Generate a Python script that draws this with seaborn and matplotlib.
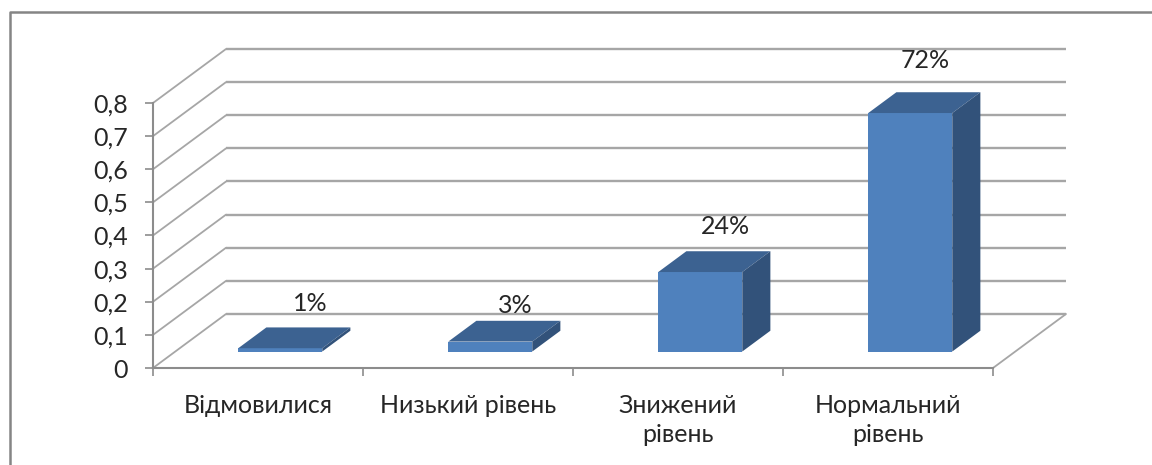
import matplotlib
matplotlib.use("Agg")
import matplotlib.pyplot as plt
from matplotlib.lines import Line2D
from matplotlib.patches import Polygon
from matplotlib.transforms import Affine2D
import pandas as pd
import seaborn as sns

categories = ["Відмовилися", "Низький рівень", "Знижений\nрівень", "Нормальний\nрівень"]
shares = [0.01, 0.03, 0.24, 0.72]
y_ticks = [0.0, 0.1, 0.2, 0.3, 0.4, 0.5, 0.6, 0.7, 0.8]

# Oblique depth of the pseudo-3D box, in pixels at full depth
DEPTH_X, DEPTH_Y = 73, 54
BAR_FRONT, BAR_BACK = 0.305, 0.69
BAR_WIDTH = 0.4
# Hand-placed data labels: pixel shift from each bar's front top centre
label_shifts = [(30, 45), (25, 36), (25, 46), (15, 53)]

GRID = "#a6a6a6"
AXIS = "#8c8c8c"
FACE = "#4f81bd"
TOP = "#3c6291"
SIDE = "#32527a"
INK = "#262626"
FONT_SIZE = 18

sns.set_theme(style="white")
plt.rcParams["font.family"] = ["Lato", "Open Sans", "DejaVu Sans"]

W, H = 1152, 465
fig = plt.figure(figsize=(W / 100, H / 100), dpi=100, facecolor="white")
ax = fig.add_axes([153 / W, (H - 368) / H, 840 / W, 265 / H])
ax.patch.set_alpha(0)


def at_depth(d):
    """Data transform pushed back along the oblique axis by fraction d."""
    return ax.transData + Affine2D().translate(d * DEPTH_X, d * DEPTH_Y)


frame = pd.DataFrame({"category": categories, "share": shares})
sns.barplot(data=frame, x="category", y="share", color=FACE, saturation=1,
            width=BAR_WIDTH, ax=ax, zorder=4, clip_on=False)
ax.set_xlim(-0.5, len(categories) - 0.5)
ax.set_ylim(0, 0.8)
ax.set_xlabel("")
ax.set_ylabel("")
x_lo, x_hi = ax.get_xlim()
pixels = Affine2D()

# Back wall and side wall
for v in y_ticks:
    ax.plot([x_lo, x_hi], [v, v], transform=at_depth(1), color=GRID, lw=1.7,
            clip_on=False, zorder=1, solid_capstyle="butt")
    a = ax.transData.transform((x_lo, v))
    ax.add_line(Line2D([a[0], a[0] + DEPTH_X], [a[1], a[1] + DEPTH_Y], transform=pixels,
                       color=GRID, lw=1.3, clip_on=False, zorder=1))

# Right edge of the floor
b = ax.transData.transform((x_hi, 0))
ax.add_line(Line2D([b[0], b[0] + DEPTH_X], [b[1], b[1] + DEPTH_Y], transform=pixels,
                   color=GRID, lw=1.3, clip_on=False, zorder=1))

# Bar faces: shift the seaborn rectangles forward, then add top and side
front = at_depth(BAR_FRONT)
back = at_depth(BAR_BACK)
for i, (patch, share, shift) in enumerate(zip(ax.patches, shares, label_shifts)):
    patch.set_transform(front)
    patch.set_linewidth(0)
    x0 = patch.get_x()
    x1 = x0 + patch.get_width()
    p00, p10, p11 = front.transform([(x0, share), (x1, share), (x1, 0)])
    q00, q10, q11 = back.transform([(x0, share), (x1, share), (x1, 0)])
    ax.add_patch(Polygon([p00, p10, q10, q00], closed=True, transform=pixels,
                         facecolor=TOP, edgecolor="none", zorder=4, clip_on=False))
    ax.add_patch(Polygon([p10, p11, q11, q10], closed=True, transform=pixels,
                         facecolor=SIDE, edgecolor="none", zorder=4, clip_on=False))
    ax.annotate(f"{share:.0%}", xy=(i, share), xycoords=front,
                xytext=(shift[0] * 0.72, shift[1] * 0.72), textcoords="offset points",
                ha="center", va="center", color=INK, fontsize=FONT_SIZE,
                zorder=5, annotation_clip=False)

# Axes, ticks and labels
sns.despine(ax=ax, top=True, right=True)
for side in ("left", "bottom"):
    ax.spines[side].set_color(AXIS)
    ax.spines[side].set_linewidth(1.5)
ax.set_yticks(y_ticks)
ax.set_yticklabels([f"{v:.1f}".replace(".", ",") if v else "0" for v in y_ticks],
                   fontsize=FONT_SIZE, color=INK)
ax.tick_params(axis="y", length=6, width=1.2, color=AXIS, pad=12, left=True)
ax.set_xticks(range(len(categories)))
ax.set_xticklabels(categories, fontsize=FONT_SIZE, color=INK, linespacing=1.35, va="top")
ax.tick_params(axis="x", which="major", length=0, pad=18.5)
ax.set_xticks([x_lo + k for k in range(len(categories) + 1)], minor=True)
ax.tick_params(axis="x", which="minor", length=6, width=1.2, color=AXIS, bottom=True)

# Outer chart frame, running off the right and bottom edges
fig.add_artist(Line2D([10 / W, 10 / W, 1], [0, (H - 12) / H, (H - 12) / H],
                      color="#858585", lw=1.8, transform=fig.transFigure))

fig.savefig("out.png", dpi=100, facecolor="white")
